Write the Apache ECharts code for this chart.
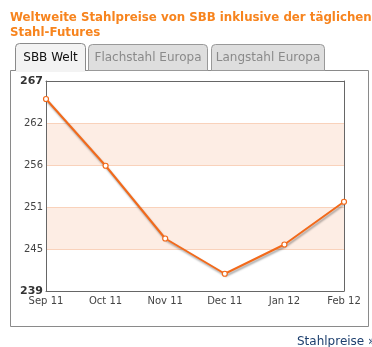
<!DOCTYPE html>
<html><head><meta charset="utf-8">
<script src="https://cdn.jsdelivr.net/npm/echarts@6/dist/echarts.min.js"></script>
<style>html,body{margin:0;padding:0;background:#fff;}#c{width:372px;height:347px;}</style>
</head><body><div id="c"></div>
<script>
const titleLines = ['Weltweite Stahlpreise von SBB inklusive der täglichen', 'Stahl-Futures'];
const tabs = ['SBB Welt', 'Flachstahl Europa', 'Langstahl Europa'];
const categories = ['Sep 11', 'Oct 11', 'Nov 11', 'Dec 11', 'Jan 12', 'Feb 12'];
const prices = [265.0, 256.1, 246.4, 241.7, 245.6, 251.3];
const yTickLabels = ['239', '245', '251', '256', '262', '267'];
const yMin = 239.4, yMax = 267.4;
const linkText = 'Stahlpreise »';

const chart = echarts.init(document.getElementById('c'));
const font = 'DejaVu Sans, Verdana, sans-serif';
chart.setOption({
  animation: false,
  textStyle: { fontFamily: font },
  title: {
    text: titleLines.join('\n'), left: 5, top: 5,
    textStyle: { color: '#f7841e', fontSize: 11.8, fontWeight: 'bold', lineHeight: 15, fontFamily: font }
  },
  graphic: [
    { type: 'rect', z: -10, shape: { x: 10.5, y: 70.5, width: 358, height: 256 }, style: { fill: '#fff', stroke: '#8a8a8a', lineWidth: 1 } },
    { type: 'rect', z: -9, shape: { x: 15.5, y: 43.5, width: 70, height: 27, r: [4, 4, 0, 0] }, style: { fill: '#f3f3f3', stroke: '#8a8a8a', lineWidth: 1 } },
    { type: 'rect', z: -8, shape: { x: 16, y: 69, width: 69, height: 3 }, style: { fill: '#f3f3f3' } },
    { type: 'text', z: -7, style: { x: 50.5, y: 57.5, text: tabs[0], fill: '#111', font: '12px ' + font, textAlign: 'center', textVerticalAlign: 'middle' } },
    { type: 'rect', z: -9, shape: { x: 88.5, y: 44.5, width: 119, height: 26, r: [4, 4, 0, 0] }, style: { fill: '#dedede', stroke: '#999', lineWidth: 1 } },
    { type: 'text', z: -7, style: { x: 148, y: 57.5, text: tabs[1], fill: '#8a8a8a', font: '12px ' + font, textAlign: 'center', textVerticalAlign: 'middle' } },
    { type: 'rect', z: -9, shape: { x: 211.5, y: 44.5, width: 113, height: 26, r: [4, 4, 0, 0] }, style: { fill: '#dedede', stroke: '#999', lineWidth: 1 } },
    { type: 'text', z: -7, style: { x: 268, y: 57.5, text: tabs[2], fill: '#8a8a8a', font: '12px ' + font, textAlign: 'center', textVerticalAlign: 'middle' } },
    { type: 'text', style: { x: 297, y: 342, text: linkText, fill: '#1d3f6e', font: '12px ' + font, textAlign: 'left', textVerticalAlign: 'middle' } }
  ],
  grid: { left: 46, top: 81, right: 28, bottom: 56, show: false },
  xAxis: [{
    type: 'category', data: categories, boundaryGap: false, position: 'bottom',
    axisLine: { show: true, onZero: false, lineStyle: { color: '#666', width: 1 } },
    axisTick: { show: false },
    axisLabel: { color: '#444', fontSize: 10, margin: 5, fontFamily: font, showMinLabel: true, showMaxLabel: true, interval: 0 },
    splitLine: { show: false }, z: 5
  }, {
    type: 'category', data: categories, boundaryGap: false, position: 'top',
    axisLine: { show: true, onZero: false, lineStyle: { color: '#666', width: 1 } },
    axisTick: { show: false }, axisLabel: { show: false }, splitLine: { show: false }, z: 5
  }],
  yAxis: [
    { type: 'value', min: yMin, max: yMax, position: 'right',
      axisLine: { show: true, onZero: false, lineStyle: { color: '#666', width: 1 } },
      axisTick: { show: false }, axisLabel: { show: false },
      splitLine: { show: false }, splitArea: { show: false }, z: 5 },
    {
      type: 'value', min: 0, max: yTickLabels.length - 1, interval: 1, position: 'left',
      axisLine: { show: true, onZero: false, lineStyle: { color: '#666', width: 1 } },
      axisTick: { show: false },
      axisLabel: {
        margin: 3, fontSize: 10, color: '#444', fontFamily: font,
        formatter: (v) => {
          const i = Math.round(v);
          const t = yTickLabels[i];
          return (i === 0 || i === yTickLabels.length - 1) ? '{b|' + t + '}' : t;
        },
        rich: { b: { fontWeight: 'bold', fontSize: 11, color: '#333', fontFamily: font } }
      },
      splitLine: { show: true, lineStyle: { color: ['#f9d2bb'], width: 1 } },
      splitArea: { show: true, areaStyle: { color: ['rgba(255,255,255,0)', '#fdede4'] } },
      z: 5
    }
  ],
  series: [{
    type: 'line', yAxisIndex: 0, data: prices, z: 10,
    symbol: 'circle', symbolSize: 5, showAllSymbol: true,
    lineStyle: { color: '#f26a1b', width: 2, shadowColor: 'rgba(0,0,0,0.35)', shadowBlur: 2, shadowOffsetX: 1, shadowOffsetY: 2 },
    itemStyle: { color: '#fff', borderColor: '#f26a1b', borderWidth: 1.2 }
  }]
});
</script></body></html>
